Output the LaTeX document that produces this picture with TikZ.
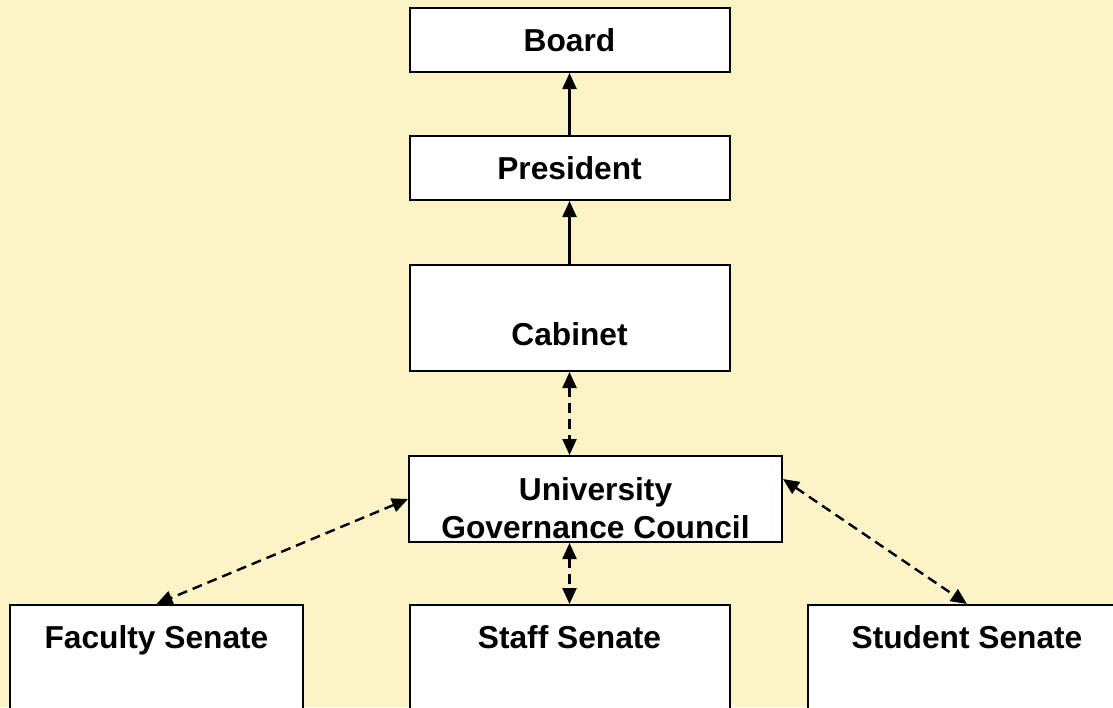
\documentclass[tikz,border=0pt]{standalone}
\usepackage{fontspec}
\setmainfont{Liberation Sans}
\usetikzlibrary{arrows.meta}
\definecolor{bgyellow}{RGB}{252,243,199}
\tikzset{
  box/.style={draw=black, line width=2pt, fill=white, inner xsep=4pt,
    font=\bfseries\fontsize{31.7}{38}\selectfont, align=center},
  senate/.style={box, anchor=north, minimum width=#1, text height=31pt,
    text depth=130pt, inner ysep=12pt},
  link/.style={line width=2.4pt},
  loose/.style={link, dash pattern=on 10pt off 6pt},
}
\begin{document}
\begin{tikzpicture}[x=1pt, y=-1pt, >={Triangle[length=16pt,width=14pt]}]
    % Background
    \useasboundingbox (0,0) rectangle (1113,707);
    \clip (0,0) rectangle (1113,707);
    \fill[bgyellow] (0,0) rectangle (1113,707);

    % Top of the chart
    \node[box, minimum width=320pt, minimum height=64pt] (board) at (569.5,40) {Board};
    \node[box, minimum width=320pt, minimum height=64pt] (pres) at (569.5,168) {President};
    \node[box, anchor=north, minimum width=320pt, text height=70pt, text depth=16pt,
      inner ysep=10pt] (cab) at (569.5,264) {Cabinet};

    % Council
    \node[box, anchor=north, minimum width=373pt, text height=78pt, text depth=0pt,
      inner ysep=4pt] (ugc) at (595.5,455) {University\\Governance Council};

    % Senates
    \node[senate=293pt] (faculty) at (156.5,604) {Faculty Senate};
    \node[senate=320pt] (staff) at (569.5,604) {Staff Senate};
    \node[senate=318pt] (student) at (967,604) {Student Senate};

    % Reporting lines
    \draw[link,->] (pres) -- (board);
    \draw[link,->] (cab) -- (pres);

    % Consultation
    \draw[loose,<->] (cab.south) -- (cab.south |- ugc.north);
    \draw[loose,<->] (ugc.west) -- (faculty.north);
    \draw[loose,<->] (staff.north |- ugc.south) -- (staff.north);
    \draw[loose,<->] ([yshift=20pt]ugc.east) -- (student.north);
\end{tikzpicture}
\end{document}
